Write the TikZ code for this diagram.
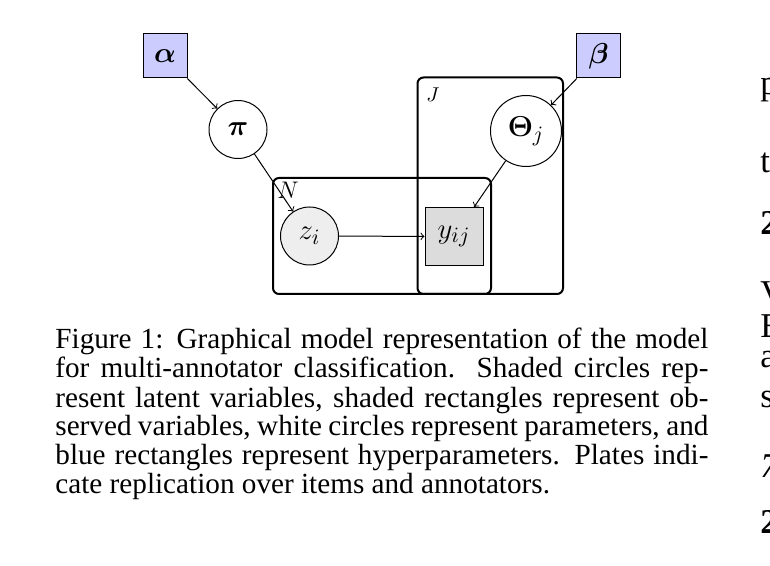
\documentclass[tikz,border=0pt]{standalone}
\usepackage{amsmath}
\usepackage{fontspec}
\newfontfamily\capfont{Liberation Serif}
\definecolor{hypblue}{RGB}{204,204,255}
\definecolor{latfill}{RGB}{238,238,238}
\definecolor{obsfill}{RGB}{220,220,220}
\begin{document}
\begin{tikzpicture}[x=0.5pt,y=-0.5pt,
  nodefont/.style={font=\fontsize{15}{17}\selectfont},
  param/.style={circle,draw,line width=0.5pt,inner sep=0pt,nodefont},
  latent/.style={param,fill=latfill},
  hyper/.style={rectangle,draw,fill=hypblue,line width=0.5pt,inner sep=0pt,minimum size=22pt,nodefont},
  observed/.style={rectangle,draw,fill=obsfill,line width=0.5pt,inner sep=0pt,minimum size=29pt,nodefont},
  edge/.style={->,line width=0.5pt},
  plate/.style={draw,line width=1pt,rounded corners=3pt},
  stray/.style={anchor=base west,inner sep=0pt,font=\capfont\fontsize{17.4}{20}\selectfont}]
\useasboundingbox (0,0) rectangle (770,566);
% plates
\draw[plate] (273,178) rectangle (491,294);
\draw[plate] (417.5,77.5) rectangle (563,294);
\node[anchor=north west,inner sep=0pt,font=\fontsize{12.5}{14}\selectfont] (labN) at (277,182) {$N$};
\node[anchor=north west,inner sep=0pt,font=\fontsize{10}{12}\selectfont] (labJ) at (426,87) {$J$};
% nodes
\node[hyper] (alpha) at (165,56) {$\boldsymbol{\alpha}$};
\node[hyper] (beta) at (598.5,56) {$\boldsymbol{\beta}$};
\node[param,minimum size=29pt] (pi) at (238,129.5) {$\boldsymbol{\pi}$};
\node[param,minimum size=35.5pt] (theta) at (526,131) {$\boldsymbol{\Theta}_j$};
\node[latent,minimum size=29pt] (z) at (309.5,236) {$z_i$};
\node[observed] (y) at (454,236.5) {$y_{ij}$};
% edges
\draw[edge] (alpha) -- (pi);
\draw[edge] (pi) -- (z);
\draw[edge] (beta) -- (theta);
\draw[edge] (theta) -- (y);
\draw[edge] (z) -- (y);
% caption
\node[anchor=base west,inner sep=0pt] (caption) at (55,349) {\capfont\fontsize{14.6}{14.5}\selectfont\vtop{%
\hbox to 326.5pt{Figure 1: Graphical model representation of the model}
\hbox to 326.5pt{for multi-annotator classification.  Shaded circles rep-}
\hbox to 326.5pt{resent latent variables, shaded rectangles represent ob-}
\hbox to 326.5pt{served variables, white circles represent parameters, and}
\hbox to 326.5pt{blue rectangles represent hyperparameters. Plates indi-}
\hbox{cate replication over items and annotators.}}};
% text of the next column, cut by the edge
\node[stray] (s1) at (760,95) {p};
\node[stray] (s2) at (760,173) {t};
\node[stray,font=\capfont\bfseries\fontsize{17.4}{20}\selectfont] (s3) at (760,235) {2};
\node[stray] (s4) at (760,305) {V};
\node[stray] (s5) at (760,337) {E};
\node[stray] (s6) at (760,367) {a};
\node[stray] (s7) at (760,407) {s};
\node[stray,font=\capfont\itshape\fontsize{17.4}{20}\selectfont] (s8) at (760,477) {7};
\node[stray,font=\capfont\bfseries\fontsize{17.4}{20}\selectfont] (s9) at (760,533) {2};
\end{tikzpicture}
\end{document}
